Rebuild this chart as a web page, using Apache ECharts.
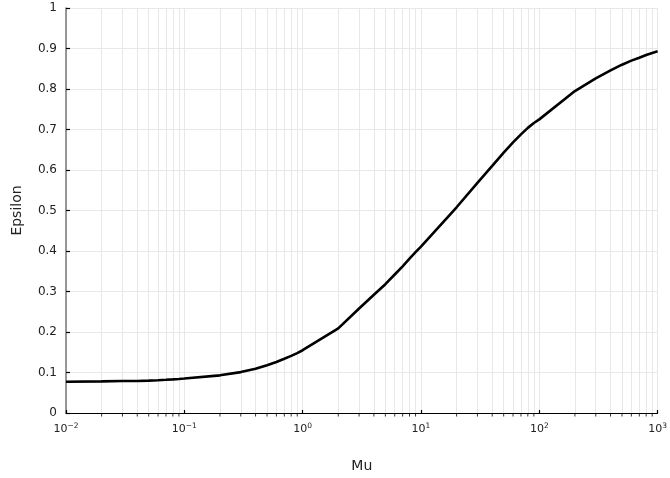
<!DOCTYPE html>
<html>
<head>
<meta charset="utf-8">
<script src="https://cdn.jsdelivr.net/npm/echarts@6/dist/echarts.min.js"></script>
<style>html,body{margin:0;padding:0;background:#fff}#c{width:670px;height:478px}</style>
</head>
<body>
<div id="c"></div>
<script>
var mu      = [0.01, 0.02, 0.03, 0.04, 0.05, 0.06, 0.07, 0.08, 0.09,
               0.1, 0.2, 0.3, 0.4, 0.5, 0.6, 0.7, 0.8, 0.9,
               1, 2, 3, 4, 5, 6, 7, 8, 9,
               10, 20, 30, 40, 50, 60, 70, 80, 90,
               100, 200, 300, 400, 500, 600, 700, 800, 900, 1000];
var epsilon = [0.077, 0.078, 0.079, 0.079, 0.080, 0.081, 0.082, 0.083, 0.084,
               0.085, 0.093, 0.101, 0.109, 0.118, 0.126, 0.134, 0.141, 0.148,
               0.155, 0.209, 0.258, 0.292, 0.318, 0.342, 0.362, 0.381, 0.397,
               0.411, 0.508, 0.568, 0.610, 0.643, 0.668, 0.688, 0.704, 0.716,
               0.725, 0.795, 0.826, 0.846, 0.860, 0.870, 0.877, 0.884, 0.889, 0.893];
var xTitle = 'Mu';
var yTitle = 'Epsilon';
var minorValues = [];
[0.01, 0.1, 1, 10, 100].forEach(function (d) {
  for (var k = 2; k <= 9; k++) minorValues.push(+(d * k).toPrecision(6));
});

var font = 'DejaVu Sans';
var chart = echarts.init(document.getElementById('c'), null, {renderer: 'canvas'});
chart.setOption({
  animation: false,
  backgroundColor: '#fff',
  grid: {left: 66, right: 8, top: 8, bottom: 65, containLabel: false},
  xAxis: {
    type: 'log', logBase: 10, min: 0.01, max: 1000,
    name: xTitle, nameLocation: 'middle', nameGap: 46,
    nameTextStyle: {fontFamily: font, fontSize: 14, color: '#222'},
    axisLine: {lineStyle: {color: '#000', width: 1.2}},
    axisTick: {show: true, inside: true, length: 3, lineStyle: {color: '#000', width: 1.2}},
    axisLabel: {
      fontFamily: font, fontSize: 11, color: '#222', margin: 9, lineHeight: 14,
      formatter: function (v) {
        var e = Math.round(Math.log10(v));
        return '10{sup|' + (e < 0 ? '\u2212' + (-e) : e) + '}';
      },
      rich: {sup: {fontFamily: font, fontSize: 7.5, color: '#222', verticalAlign: 'top', lineHeight: 8}}
    },
    splitLine: {show: true, lineStyle: {color: '#e8e8e8', width: 1}}
  },
  yAxis: {
    type: 'value', min: 0, max: 1, interval: 0.1,
    name: yTitle, nameLocation: 'middle', nameGap: 42,
    nameTextStyle: {fontFamily: font, fontSize: 14, color: '#222'},
    axisLine: {show: true, lineStyle: {color: '#777', width: 1.5}},
    axisTick: {show: true, inside: true, length: 4, lineStyle: {color: '#000', width: 1.2}},
    axisLabel: {fontFamily: font, fontSize: 12, color: '#222', margin: 9,
      formatter: function (v) { return String(+v.toFixed(1)); }},
    splitLine: {show: true, lineStyle: {color: '#e8e8e8', width: 1}}
  },
  series: [
    {
      type: 'scatter', z: 1, silent: true,
      data: minorValues.map(function (v) { return [v, 0]; }),
      symbol: 'rect', symbolSize: [1, 3], symbolOffset: [0, 2],
      itemStyle: {color: '#000'},
      markLine: {
        silent: true, symbol: ['none', 'none'], animation: false, z: 1,
        label: {show: false},
        lineStyle: {color: '#e8e8e8', width: 1, type: 'solid'},
        emphasis: {disabled: true},
        data: minorValues.map(function (v) { return {xAxis: v}; })
      }
    },
    {
      type: 'line', z: 10, silent: true,
      data: mu.map(function (m, i) { return [m, epsilon[i]]; }),
      showSymbol: false, smooth: false,
      lineStyle: {color: '#000', width: 2.6}
    }
  ]
});
</script>
</body>
</html>
